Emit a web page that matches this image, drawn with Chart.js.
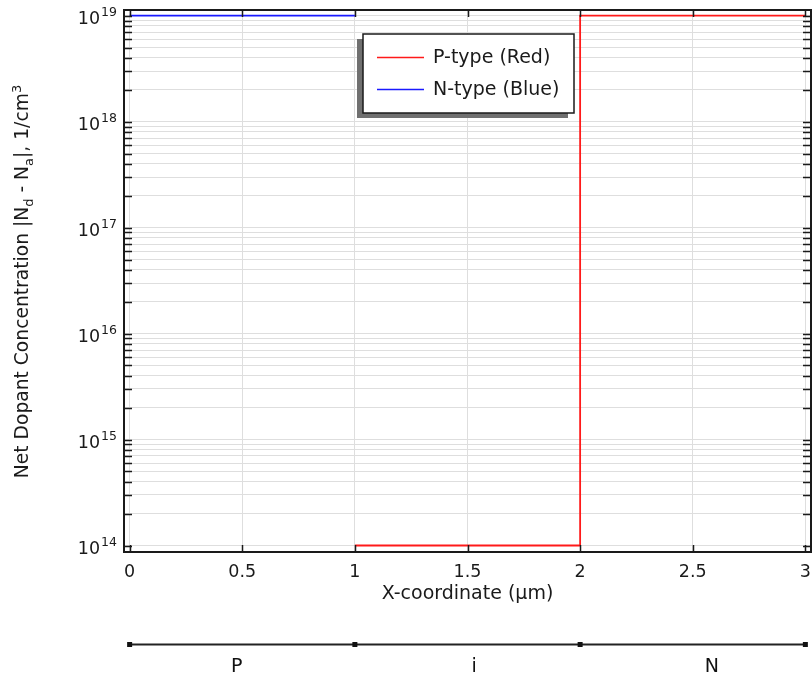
<!DOCTYPE html>
<html>
<head>
<meta charset="utf-8">
<script src="https://cdn.jsdelivr.net/npm/chart.js@4.4.1/dist/chart.umd.min.js"></script>
<style>
  html, body { margin: 0; padding: 0; background: #ffffff; }
  #wrap { width: 812px; height: 677px; }
</style>
</head>
<body>
<div id="wrap"><canvas id="c" width="812" height="677"></canvas></div>
<script>
// ---------------- data ----------------
const xTicks = [0, 0.5, 1, 1.5, 2, 2.5, 3];
const xTickLabels = ['0', '0.5', '1', '1.5', '2', '2.5', '3'];
const yDecades = [14, 15, 16, 17, 18, 19];

const seriesNames = ['P-type (Red)', 'N-type (Blue)'];
const redX = [1, 2, 2, 3];
const redY = [1e14, 1e14, 1e19, 1e19];
const blueX = [0, 1];
const blueY = [1e19, 1e19];

const regionBounds = [0, 1, 2, 3];
const regionLabels = ['P', 'i', 'N'];
const regionLabelX = [0.475, 1.53, 2.585];

const xTitle = 'X-coordinate (µm)';
const yTitle = [
  { t: 'Net Dopant Concentration |N' }, { t: 'd', sub: true },
  { t: ' - N' }, { t: 'a', sub: true },
  { t: '|, 1/cm' }, { t: '3', sup: true }
];

// ---------------- helpers ----------------
const FONT = '"DejaVu Sans", sans-serif';
function toPts(xs, ys) { return xs.map((x, i) => ({ x: x, y: ys[i] })); }

function yTickValues() {
  const out = [];
  for (let d = yDecades[0]; d <= yDecades[yDecades.length - 1]; d++) {
    for (let k = 1; k <= 9; k++) {
      const v = k * Math.pow(10, d);
      if (d === yDecades[yDecades.length - 1] && k > 1) break;
      out.push(v);
    }
  }
  return out;
}

function drawRich(ctx, segs, x, y, baseSize, smallSize, align) {
  const parts = segs.map(s => {
    const size = (s.sub || s.sup) ? smallSize : baseSize;
    ctx.font = size + 'px ' + FONT;
    return { t: s.t, size: size, w: ctx.measureText(s.t).width, dy: s.sub ? 5.5 : (s.sup ? -7 : 0) };
  });
  const total = parts.reduce((a, p) => a + p.w, 0);
  let cx = align === 'center' ? x - total / 2 : (align === 'right' ? x - total : x);
  ctx.textAlign = 'left';
  ctx.textBaseline = 'alphabetic';
  parts.forEach(p => {
    ctx.font = p.size + 'px ' + FONT;
    ctx.fillText(p.t, cx, y + p.dy);
    cx += p.w;
  });
}

const decorPlugin = {
  id: 'decor',
  afterDatasetsDraw(chart) {
    const ctx = chart.ctx;
    const a = chart.chartArea;
    const xs = chart.scales.x, ys = chart.scales.y;
    ctx.save();

    // frame
    ctx.strokeStyle = '#1a1a1a';
    ctx.lineWidth = 2;
    ctx.strokeRect(a.left, a.top, a.right - a.left, a.bottom - a.top);

    // inward ticks
    ctx.lineWidth = 1.5;
    ctx.beginPath();
    xTicks.forEach(v => {
      const px = Math.round(xs.getPixelForValue(v)) + 0.5;
      ctx.moveTo(px, a.bottom); ctx.lineTo(px, a.bottom - 7);
      ctx.moveTo(px, a.top); ctx.lineTo(px, a.top + 7);
    });
    yTickValues().forEach(v => {
      const py = Math.round(ys.getPixelForValue(v)) + 0.5;
      ctx.moveTo(a.left, py); ctx.lineTo(a.left + 8, py);
      ctx.moveTo(a.right, py); ctx.lineTo(a.right - 8, py);
    });
    ctx.stroke();

    // x tick labels
    ctx.fillStyle = '#1a1a1a';
    ctx.font = '17.5px ' + FONT;
    ctx.textAlign = 'center';
    ctx.textBaseline = 'alphabetic';
    xTicks.forEach((v, i) => {
      ctx.fillText(xTickLabels[i], xs.getPixelForValue(v), a.bottom + 25);
    });

    // y tick labels 10^n
    yDecades.forEach(d => {
      const py = ys.getPixelForValue(Math.pow(10, d));
      ctx.font = '12.5px ' + FONT;
      const ew = ctx.measureText(String(d)).width;
      ctx.textAlign = 'left';
      const right = a.left - 7;
      ctx.fillText(String(d), right - ew, py + 0.7);
      ctx.font = '17.5px ' + FONT;
      const bw = ctx.measureText('10').width;
      ctx.fillText('10', right - ew - bw - 1, py + 8.7);
    });

    // axis titles
    ctx.font = '19px ' + FONT;
    ctx.textAlign = 'center';
    ctx.fillText(xTitle, (xs.getPixelForValue(0) + xs.getPixelForValue(3)) / 2, 599);

    ctx.save();
    ctx.translate(27.5, 281.5);
    ctx.rotate(-Math.PI / 2);
    drawRich(ctx, yTitle, 0, 0, 18.7, 13, 'center');
    ctx.restore();

    // legend
    const bx = 363, by = 34, bw = 211, bh = 79;
    ctx.fillStyle = '#707070';
    ctx.fillRect(bx - 6, by + 5, bw, bh);
    ctx.fillStyle = '#ffffff';
    ctx.fillRect(bx, by, bw, bh);
    ctx.strokeStyle = '#1a1a1a';
    ctx.lineWidth = 1.5;
    ctx.strokeRect(bx, by, bw, bh);
    chart.data.datasets.forEach((ds, i) => {
      const ly = 57.5 + i * 32;
      ctx.strokeStyle = ds.borderColor;
      ctx.lineWidth = 1.5;
      ctx.beginPath(); ctx.moveTo(377, ly); ctx.lineTo(424, ly); ctx.stroke();
      ctx.fillStyle = '#1a1a1a';
      ctx.font = '19px ' + FONT;
      ctx.textAlign = 'left';
      ctx.fillText(ds.label, 433, ly + 5.5);
    });

    // region strip
    const sy = 644.5;
    ctx.strokeStyle = '#222222';
    ctx.lineWidth = 2;
    ctx.beginPath();
    ctx.moveTo(xs.getPixelForValue(regionBounds[0]), sy);
    ctx.lineTo(xs.getPixelForValue(regionBounds[regionBounds.length - 1]), sy);
    ctx.stroke();
    ctx.fillStyle = '#111111';
    regionBounds.forEach(v => {
      const px = xs.getPixelForValue(v);
      ctx.fillRect(px - 2.5, sy - 2.5, 5, 5);
    });
    ctx.font = '19px ' + FONT;
    ctx.textAlign = 'center';
    regionLabels.forEach((t, i) => {
      ctx.fillText(t, xs.getPixelForValue(regionLabelX[i]), 672);
    });

    ctx.restore();
  }
};

new Chart(document.getElementById('c'), {
  type: 'scatter',
  data: {
    datasets: [
      { label: seriesNames[0], data: toPts(redX, redY), showLine: true, borderColor: '#ff1a1a',
        backgroundColor: '#ff1a1a', borderWidth: 1.8, pointRadius: 0, tension: 0 },
      { label: seriesNames[1], data: toPts(blueX, blueY), showLine: true, borderColor: '#1a1aff',
        backgroundColor: '#1a1aff', borderWidth: 1.8, pointRadius: 0, tension: 0 }
    ]
  },
  options: {
    responsive: false,
    animation: false,
    devicePixelRatio: 1,
    layout: { padding: { left: 124, top: 10, right: 1, bottom: 125 } },
    plugins: { legend: { display: false }, tooltip: { enabled: false } },
    scales: {
      x: {
        type: 'linear', min: -0.025, max: 3.025,
        afterBuildTicks: s => { s.ticks = xTicks.map(v => ({ value: v })); },
        grid: { color: '#dedede', lineWidth: 1, drawTicks: false },
        border: { display: false },
        ticks: { display: false }
      },
      y: {
        type: 'logarithmic', min: Math.pow(10, 13.9387), max: Math.pow(10, 19.054),
        afterBuildTicks: s => { s.ticks = yTickValues().map(v => ({ value: v })); },
        grid: { color: '#dedede', lineWidth: 1, drawTicks: false },
        border: { display: false },
        ticks: { display: false }
      }
    }
  },
  plugins: [decorPlugin]
});
</script>
</body>
</html>
